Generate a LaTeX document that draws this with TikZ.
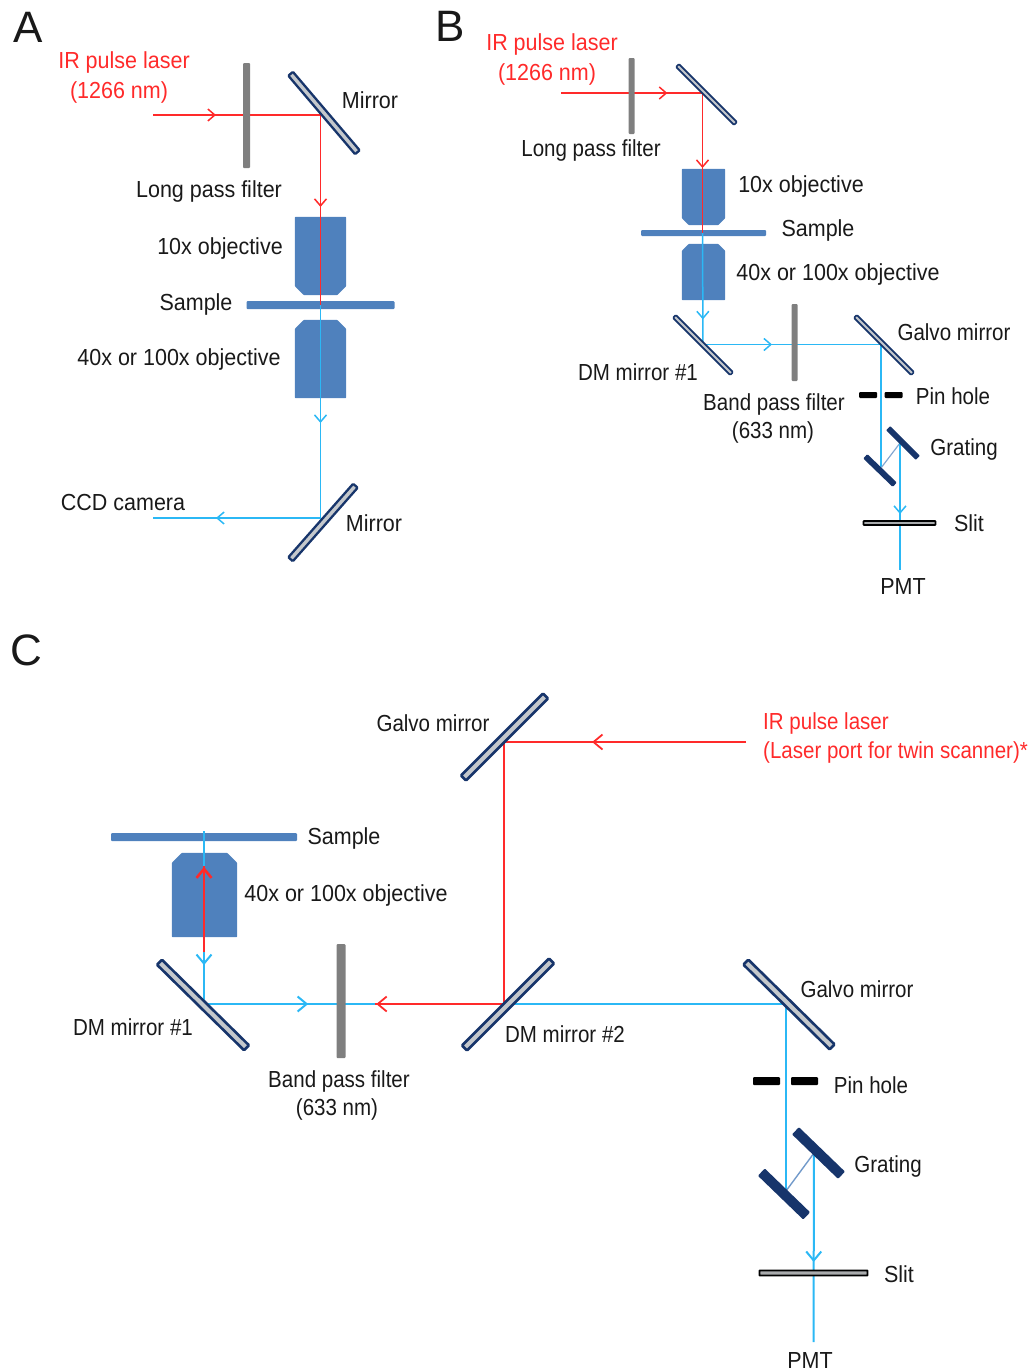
\documentclass[tikz,border=0pt]{standalone}
\usepackage{fontspec}
\setmainfont{Liberation Sans}
\usetikzlibrary{arrows.meta,decorations.markings}
\definecolor{irred}{HTML}{FF2A2A}
\definecolor{visblue}{HTML}{2BB8F5}
\definecolor{objblue}{HTML}{4F81BD}
\definecolor{navy}{HTML}{17356B}
\definecolor{filt}{HTML}{7F7F7F}
\definecolor{silver}{HTML}{C4C8CC}
\tikzset{
  beam/.style={line width=#1},
  beam/.default=1.5pt,
  ir/.style={color=irred},
  vis/.style={color=visblue},
  tipat/.style={postaction={decorate},decoration={markings,mark=at position #1 with {\arrow{Straight Barb[length=7pt,width=12pt]}}}},
  bigtipat/.style={postaction={decorate},decoration={markings,mark=at position #1 with {\arrow{Straight Barb[length=9pt,width=15pt]}}}},
  lbl/.style={font=\fontsize{21.5}{26}\selectfont,text=black!90,inner sep=0pt,yshift=-0.8pt,yscale=1.08,transform shape},
  red lbl/.style={lbl,text=irred},
  nar/.style={xscale=.955},
  panel/.style={font=\fontsize{44}{48}\selectfont,text=black!90,inner sep=0pt},
  mirror/.style={rectangle,draw=navy,fill=silver,line width=2.3pt,inner sep=0pt,minimum height=6pt,rounded corners=1pt},
  bigmirror/.style={mirror,line width=2.6pt,minimum height=7pt},
  smallmirror/.style={mirror,line width=1.7pt,minimum height=4pt},
  solidmirror/.style={rectangle,fill=navy,inner sep=0pt,minimum height=8pt,rounded corners=1pt},
  filter/.style={rectangle,fill=filt,inner sep=0pt,rounded corners=1pt},
  samplebar/.style={rectangle,fill=objblue,inner sep=0pt,rounded corners=1pt},
  pin/.style={rectangle,fill=black,inner sep=0pt,rounded corners=1pt},
  slitbar/.style={rectangle,draw=black,fill=silver!60!gray,line width=1.9pt,inner sep=0pt,rounded corners=0.5pt},
  objbox/.style={rectangle,inner sep=0pt},
  objfill/.style={fill=objblue,rounded corners=0.8pt},
}
% chamfer on the lower corners
\newcommand{\objdown}[2]{\fill[objfill] (#1.north west) -- (#1.north east) -- ([yshift=#2]#1.south east) -- ([xshift=-#2]#1.south east) -- ([xshift=#2]#1.south west) -- ([yshift=#2]#1.south west) -- cycle;}
% chamfer on the upper corners
\newcommand{\objup}[2]{\fill[objfill] (#1.south west) -- (#1.south east) -- ([yshift=-#2]#1.north east) -- ([xshift=-#2]#1.north east) -- ([xshift=#2]#1.north west) -- ([yshift=-#2]#1.north west) -- cycle;}
\begin{document}
\begin{tikzpicture}[x=1pt,y=-1pt]
\useasboundingbox (0,0) rectangle (1033,1371);
% ---- beam points
\coordinate (a1) at (153,115);
\coordinate (a2) at (320.5,115);
\coordinate (a3) at (320.5,305);
\coordinate (a4) at (320.5,518);
\coordinate (a5) at (153,518);
\coordinate (b1) at (561,93);
\coordinate (b2) at (702.5,93);
\coordinate (b3) at (702.5,233);
\coordinate (b4) at (703,344.5);
\coordinate (b5) at (881,344.5);
\coordinate (b6) at (881,468);
\coordinate (b7) at (900,443);
\coordinate (b8) at (900,570);
\coordinate (c1) at (746,742);
\coordinate (c2) at (504,742);
\coordinate (c3) at (504,1004);
\coordinate (c4) at (786,1004);
\coordinate (c5) at (204,1004);
\coordinate (c6) at (204,831);
\coordinate (c7) at (204,952);
\coordinate (c8) at (204,866);
\coordinate (c9) at (375,1004);
\coordinate (c10) at (786,1191);
\coordinate (c11) at (814,1153);
\coordinate (c12) at (813.5,1342);
% ---- objectives and samples
\node[objbox,minimum width=51pt,minimum height=78pt] (aobj1) at (320.5,256) {};
\objdown{aobj1}{9pt}
\node[samplebar,minimum width=148pt,minimum height=8pt] (asample) at (320.5,305) {};
\node[objbox,minimum width=51pt,minimum height=78pt] (aobj2) at (320.5,359) {};
\objup{aobj2}{9pt}
\node[objbox,minimum width=43pt,minimum height=56pt] (bobj1) at (703.5,197) {};
\objdown{bobj1}{7pt}
\node[samplebar,minimum width=125pt,minimum height=6pt] (bsample) at (703.5,233) {};
\node[objbox,minimum width=43pt,minimum height=56pt] (bobj2) at (703.5,272) {};
\objup{bobj2}{7pt}
\node[samplebar,minimum width=186pt,minimum height=8pt] (csample) at (204,837) {};
\node[objbox,minimum width=65pt,minimum height=84pt] (cobj) at (204.5,895) {};
\objup{cobj}{10pt}
% ---- beams, panel A
\draw[beam,ir,tipat=.376] (a1) -- (a2);
\draw[beam,ir,tipat=.484] (a2) -- (a3);
\draw[beam,vis,tipat=.554] (a3) -- (a4);
\draw[beam,vis,tipat=.624] (a4) -- (a5);
% ---- beams, panel B
\draw[beam,ir,tipat=.752] (b1) -- (b2);
\draw[beam,ir,tipat=.536] (b2) -- (b3);
\draw[beam,vis,tipat=.775] (b3) -- (b4);
\draw[beam,vis,tipat=.388] (b4) -- (b5);
\draw[beam,vis] (b5) -- (b6);
\draw[beam=1.2pt,color=objblue!70!white] (b6) -- (b7);
\draw[beam,vis,tipat=.559] (b7) -- (b8);
% ---- beams, panel C
\draw[beam=2pt,vis,bigtipat=.179] (c5) -- (c4);
\draw[beam=2pt,vis,bigtipat=.775] (c6) -- (c5);
\draw[beam=2.6pt,ir,bigtipat=.99] (c7) -- (c8);
\draw[beam=1.8pt,ir,bigtipat=.636] (c1) -- (c2);
\draw[beam=1.8pt,ir] (c2) -- (c3);
\draw[beam=1.8pt,ir,bigtipat=.99] (c3) -- (c9);
\draw[beam=2pt,vis] (c4) -- (c10);
\draw[beam=1.4pt,color=objblue!80!white] (c10) -- (c11);
\draw[beam=2pt,vis,bigtipat=.577] (c11) -- (c12);
% ---- optics, panel A
\node[filter,minimum width=7pt,minimum height=105pt] (afilter) at (246.5,115.5) {};
\node[mirror,rotate=-49.6,minimum width=103pt] (amirror1) at (324,113) {};
\node[mirror,rotate=48.6,minimum width=98pt] (amirror2) at (323,522.5) {};
% ---- optics, panel B
\node[filter,minimum width=6pt,minimum height=76pt] (bfilter1) at (631.5,96) {};
\node[smallmirror,rotate=-45,minimum width=82pt] (bmirror1) at (706.5,94.5) {};
\node[smallmirror,rotate=-45,minimum width=81pt] (bdm) at (703,345) {};
\node[filter,minimum width=6pt,minimum height=77pt] (bfilter2) at (794.5,342.5) {};
\node[smallmirror,rotate=-45,minimum width=81pt] (bgalvo) at (884,345) {};
\node[pin,minimum width=18pt,minimum height=6pt] (bpin1) at (868,395) {};
\node[pin,minimum width=18pt,minimum height=6pt] (bpin2) at (893.5,395) {};
\node[solidmirror,rotate=-44,minimum width=41pt,minimum height=6pt] (bgr1) at (880,470.5) {};
\node[solidmirror,rotate=-45,minimum width=42pt,minimum height=6pt] (bgr2) at (903,443) {};
\node[slitbar,minimum width=72pt,minimum height=4pt,line width=1.6pt] (bslit) at (899.5,523) {};
% ---- optics, panel C
\node[bigmirror,rotate=45,minimum width=116pt] (cgalvo1) at (504.5,737) {};
\node[bigmirror,rotate=45,minimum width=123pt] (cdm2) at (508,1004.5) {};
\node[bigmirror,rotate=-44.5,minimum width=122pt] (cdm1) at (203,1005) {};
\node[filter,minimum width=9pt,minimum height=114pt] (cfilter) at (341,1001) {};
\node[bigmirror,rotate=-44.5,minimum width=121pt] (cgalvo2) at (789,1004.5) {};
\node[pin,minimum width=27pt,minimum height=8pt] (cpin1) at (766.5,1081) {};
\node[pin,minimum width=27pt,minimum height=8pt] (cpin2) at (804.5,1081) {};
\node[solidmirror,rotate=-44,minimum width=63pt,minimum height=10pt] (cgr1) at (784,1194) {};
\node[solidmirror,rotate=-44,minimum width=64pt,minimum height=10pt] (cgr2) at (818.5,1153) {};
\node[slitbar,minimum width=108pt,minimum height=5pt] (cslit) at (813.5,1273) {};
% ---- labels
\node[panel] (la) at (28,27) {A};
\node[panel] (lb) at (450,26) {B};
\node[panel] (lc) at (26,650) {C};
\node[red lbl] (ta1) at (124,62) {IR pulse laser};
\node[red lbl] (ta2) at (119,92) {(1266 nm)};
\node[lbl] (ta3) at (370,99) {Mirror};
\node[lbl] (ta4) at (209,191) {Long pass filter};
\node[lbl] (ta5) at (220,248) {10x objective};
\node[lbl] (ta6) at (196,304) {Sample};
\node[lbl] (ta7) at (179,359) {40x or 100x objective};
\node[lbl] (ta8) at (123,502) {CCD camera};
\node[lbl] (ta9) at (374,522) {Mirror};
\node[red lbl] (tb1) at (552,44) {IR pulse laser};
\node[red lbl] (tb2) at (547,74) {(1266 nm)};
\node[lbl,nar] (tb3) at (591,150) {Long pass filter};
\node[lbl] (tb4) at (801,186) {10x objective};
\node[lbl] (tb5) at (818,230) {Sample};
\node[lbl] (tb6) at (838,274) {40x or 100x objective};
\node[lbl,nar] (tb7) at (954,331) {Galvo mirror};
\node[lbl,nar] (tb8) at (638,371) {DM mirror \#1};
\node[lbl,nar] (tb9) at (953,395) {Pin hole};
\node[lbl,nar] (tb10) at (774,404) {Band pass filter};
\node[lbl,nar] (tb11) at (773,432) {(633 nm)};
\node[lbl,nar] (tb12) at (964,449) {Grating};
\node[lbl] (tb13) at (969,522) {Slit};
\node[lbl] (tb14) at (903,586) {PMT};
\node[lbl,nar] (tc1) at (433,722) {Galvo mirror};
\node[red lbl,nar,anchor=west] (tc2) at (763,723) {IR pulse laser};
\node[red lbl,nar,anchor=west] (tc3) at (763,752) {(Laser port for twin scanner)*};
\node[lbl] (tc4) at (344,838) {Sample};
\node[lbl] (tc5) at (346,895) {40x or 100x objective};
\node[lbl,nar] (tc6) at (133,1026) {DM mirror \#1};
\node[lbl,nar] (tc7) at (565,1033) {DM mirror \#2};
\node[lbl,nar] (tc8) at (857,988) {Galvo mirror};
\node[lbl,nar] (tc9) at (339,1081) {Band pass filter};
\node[lbl,nar] (tc10) at (337,1109) {(633 nm)};
\node[lbl,nar] (tc11) at (871,1084) {Pin hole};
\node[lbl,nar] (tc12) at (888,1166) {Grating};
\node[lbl] (tc13) at (899,1273) {Slit};
\node[lbl] (tc14) at (810,1360) {PMT};
\end{tikzpicture}
\end{document}
